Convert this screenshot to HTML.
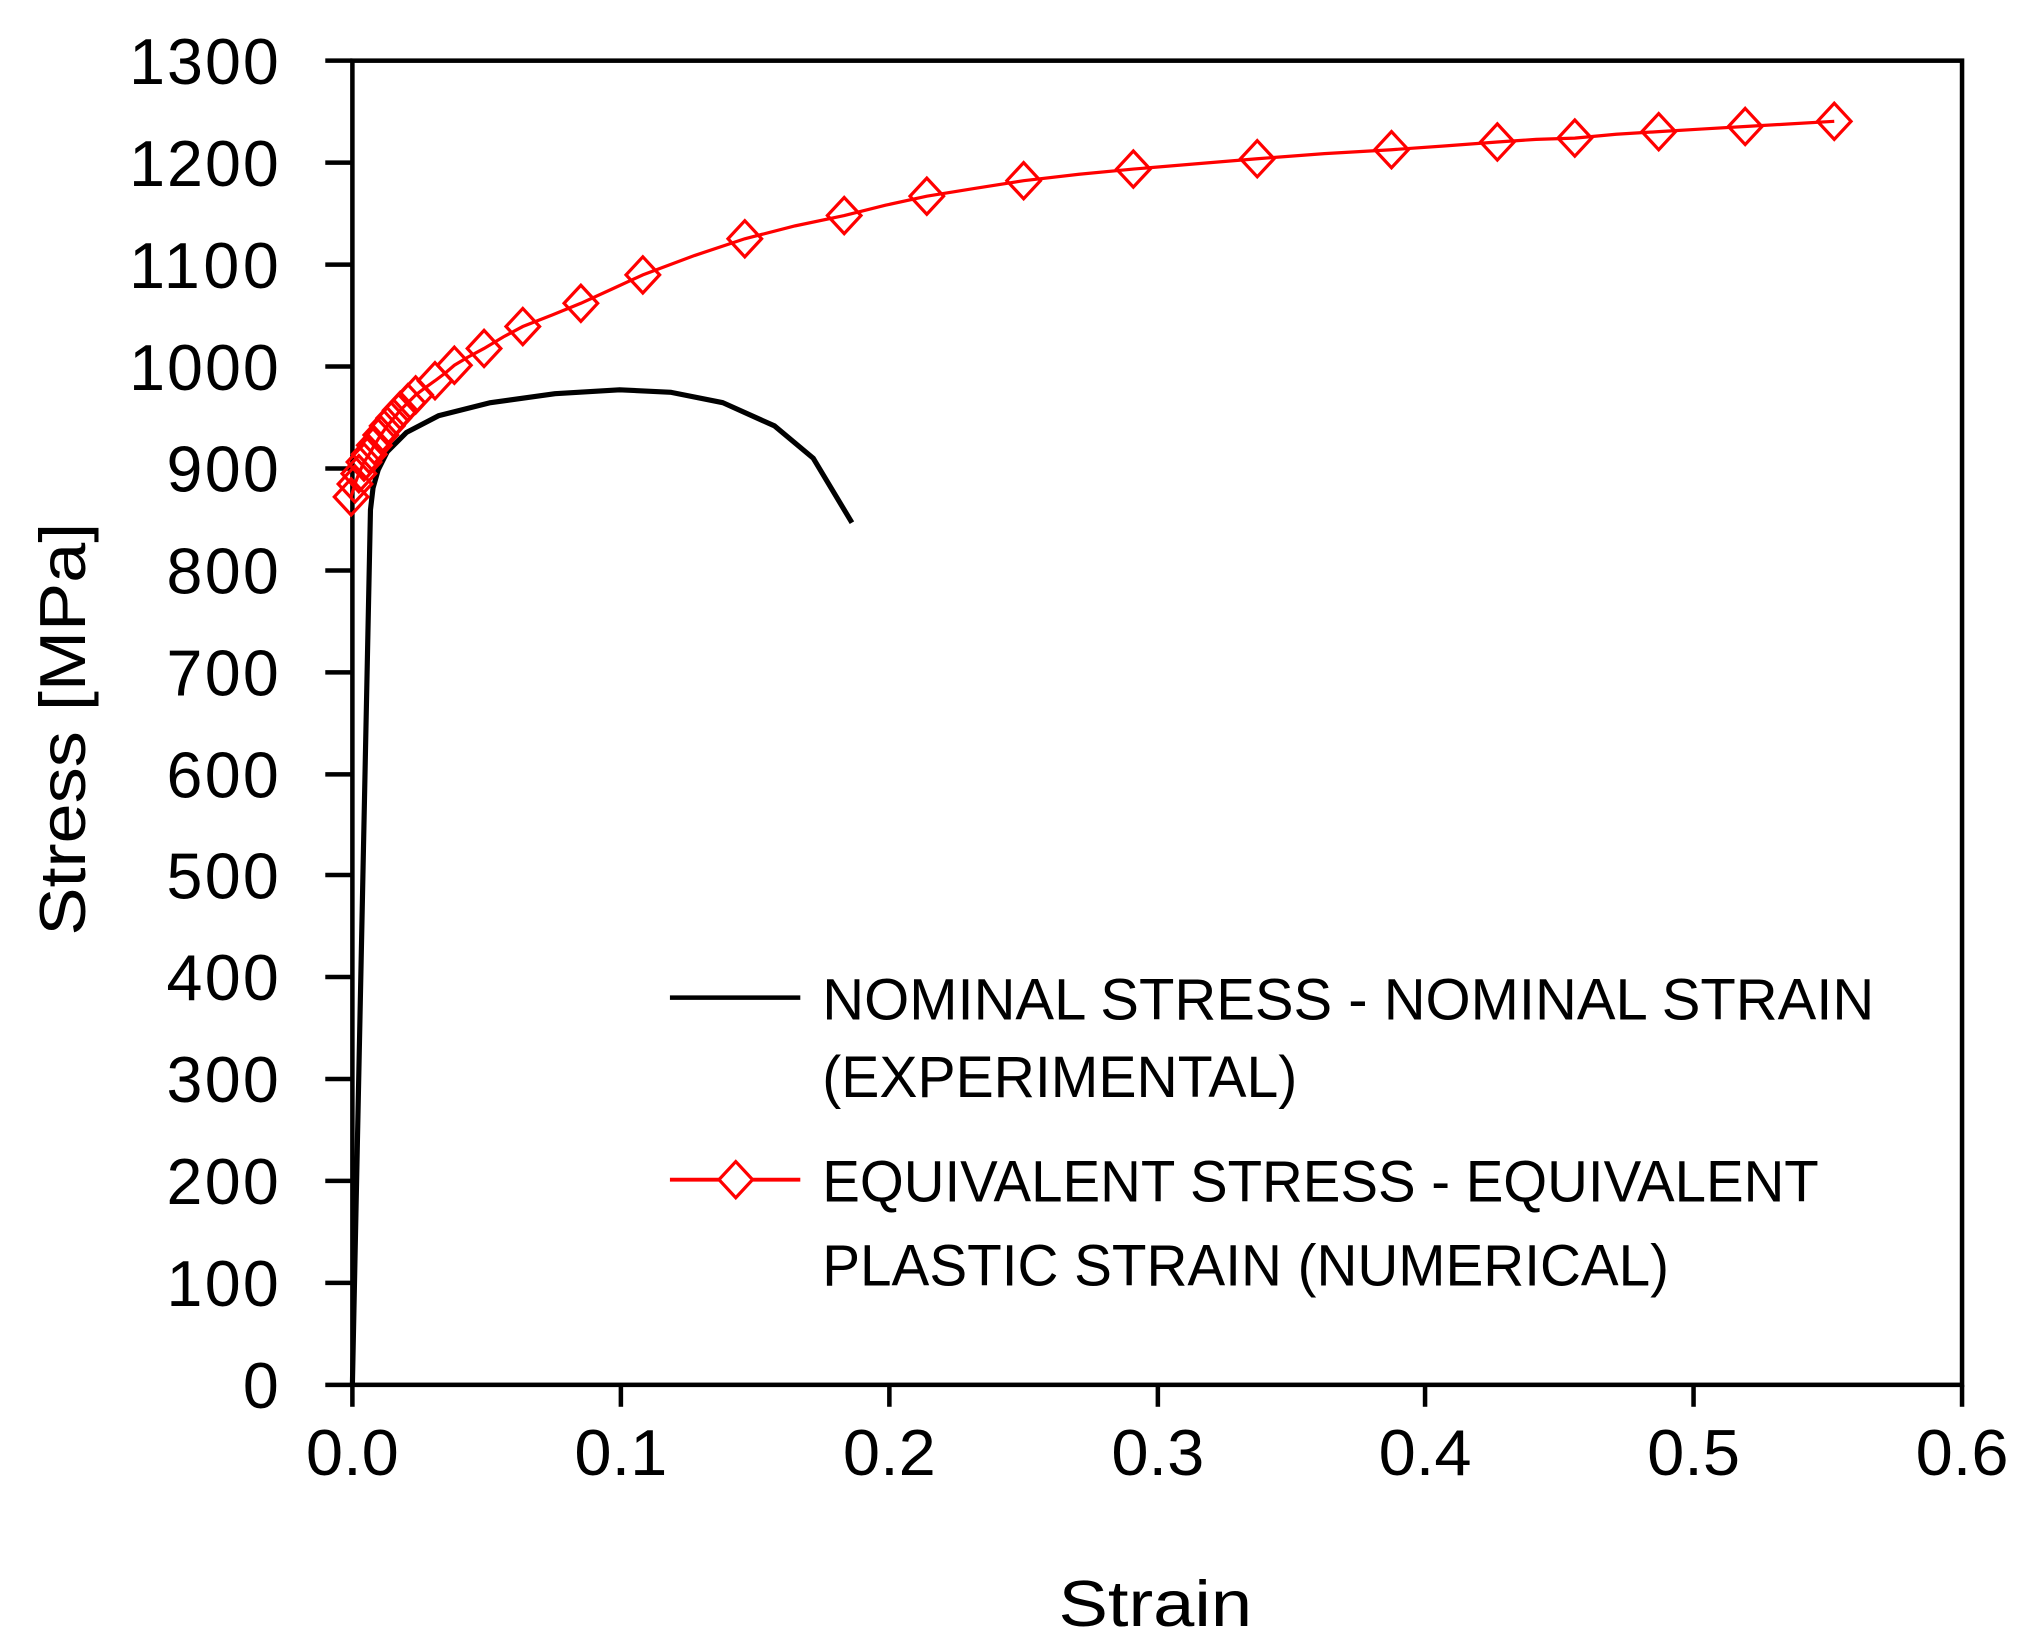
<!DOCTYPE html>
<html><head><style>html,body{margin:0;padding:0;background:#fff;}svg{display:block;}</style></head>
<body>
<svg width="2024" height="1652" viewBox="0 0 1568 1280" preserveAspectRatio="none" xmlns="http://www.w3.org/2000/svg" font-family="'Liberation Sans', 'DejaVu Sans', sans-serif">
<rect width="1568" height="1280" fill="#fff"/>
<rect x="273" y="47" width="1247" height="1026" fill="none" stroke="#000" stroke-width="3.5"/>
<g stroke="#000" stroke-width="3.5">
<line x1="252" y1="47" x2="273" y2="47"/><line x1="252" y1="126" x2="273" y2="126"/><line x1="252" y1="205" x2="273" y2="205"/>
<line x1="252" y1="284" x2="273" y2="284"/><line x1="252" y1="363" x2="273" y2="363"/><line x1="252" y1="442" x2="273" y2="442"/>
<line x1="252" y1="521" x2="273" y2="521"/><line x1="252" y1="600" x2="273" y2="600"/><line x1="252" y1="678" x2="273" y2="678"/>
<line x1="252" y1="757" x2="273" y2="757"/><line x1="252" y1="836" x2="273" y2="836"/><line x1="252" y1="915" x2="273" y2="915"/>
<line x1="252" y1="994" x2="273" y2="994"/><line x1="252" y1="1073" x2="273" y2="1073"/>
<line x1="273" y1="1073" x2="273" y2="1090"/><line x1="481" y1="1073" x2="481" y2="1090"/><line x1="689" y1="1073" x2="689" y2="1090"/>
<line x1="897" y1="1073" x2="897" y2="1090"/><line x1="1104" y1="1073" x2="1104" y2="1090"/><line x1="1312" y1="1073" x2="1312" y2="1090"/>
<line x1="1520" y1="1073" x2="1520" y2="1090"/>
</g>
<g font-size="50" text-anchor="end" fill="#000" lengthAdjust="spacingAndGlyphs">
<text x="216" y="65" textLength="116">1300</text><text x="216" y="144" textLength="116">1200</text><text x="216" y="223" textLength="116">1100</text><text x="216" y="302" textLength="116">1000</text>
<text x="216" y="381" textLength="87">900</text><text x="216" y="460" textLength="87">800</text><text x="216" y="539" textLength="87">700</text><text x="216" y="618" textLength="87">600</text>
<text x="216" y="696" textLength="87">500</text><text x="216" y="775" textLength="87">400</text><text x="216" y="854" textLength="87">300</text><text x="216" y="933" textLength="87">200</text>
<text x="216" y="1012" textLength="87">100</text><text x="216" y="1091" textLength="29">0</text>
</g>
<g font-size="50" text-anchor="middle">
<text x="273" y="1143" textLength="72" lengthAdjust="spacingAndGlyphs">0.0</text><text x="481" y="1143" textLength="72" lengthAdjust="spacingAndGlyphs">0.1</text><text x="689" y="1143" textLength="72" lengthAdjust="spacingAndGlyphs">0.2</text><text x="897" y="1143" textLength="72" lengthAdjust="spacingAndGlyphs">0.3</text>
<text x="1104" y="1143" textLength="72" lengthAdjust="spacingAndGlyphs">0.4</text><text x="1312" y="1143" textLength="72" lengthAdjust="spacingAndGlyphs">0.5</text><text x="1520" y="1143" textLength="72" lengthAdjust="spacingAndGlyphs">0.6</text>
<text x="895" y="1260" textLength="150" lengthAdjust="spacingAndGlyphs">Strain</text>
<text transform="translate(66,565) rotate(-90)" textLength="320" lengthAdjust="spacingAndGlyphs">Stress [MPa]</text>
</g>
<polyline fill="none" stroke="#000" stroke-width="4" stroke-linejoin="round" points="273,1073 287,395 289,378 293,364 300,350 315,335 340,322 380,312 430,305 480,302 520,304 560,312 600,330 630,355 660,405"/>
<g fill="none" stroke="#ff0000" stroke-width="2.5">
<polyline points="272,385 275,375 278,367 282,358 286,352 290,345 295,337 300,330 305,324 310,318 316,312 322,306 330,300 337,295 345,289 352,283 362,277 375,270 390,261 405,253 428,244 450,235 474,224 498,213 538,198 577,185 616,175 654,167 686,159 718,152 755,146 793,140 836,135 878,131 926,127 974,123 1026,119 1078,116 1120,113 1160,110 1190,108 1220,107 1252,104 1285,102 1318,100 1352,98 1387,96 1421,94"/>
<path d="M272,371 l13,14 -13,14 -13,-14z"/><path d="M275,361 l13,14 -13,14 -13,-14z"/><path d="M278,353 l13,14 -13,14 -13,-14z"/>
<path d="M282,344 l13,14 -13,14 -13,-14z"/><path d="M286,338 l13,14 -13,14 -13,-14z"/><path d="M290,331 l13,14 -13,14 -13,-14z"/>
<path d="M295,323 l13,14 -13,14 -13,-14z"/><path d="M300,316 l13,14 -13,14 -13,-14z"/><path d="M305,310 l13,14 -13,14 -13,-14z"/>
<path d="M310,304 l13,14 -13,14 -13,-14z"/><path d="M316,298 l13,14 -13,14 -13,-14z"/><path d="M322,292 l13,14 -13,14 -13,-14z"/>
<path d="M337,281 l13,14 -13,14 -13,-14z"/><path d="M352,269 l13,14 -13,14 -13,-14z"/><path d="M375,256 l13,14 -13,14 -13,-14z"/>
<path d="M405,239 l13,14 -13,14 -13,-14z"/><path d="M450,221 l13,14 -13,14 -13,-14z"/><path d="M498,199 l13,14 -13,14 -13,-14z"/>
<path d="M577,171 l13,14 -13,14 -13,-14z"/><path d="M654,153 l13,14 -13,14 -13,-14z"/><path d="M718,138 l13,14 -13,14 -13,-14z"/>
<path d="M793,126 l13,14 -13,14 -13,-14z"/><path d="M878,117 l13,14 -13,14 -13,-14z"/><path d="M974,109 l13,14 -13,14 -13,-14z"/>
<path d="M1078,102 l13,14 -13,14 -13,-14z"/><path d="M1160,96 l13,14 -13,14 -13,-14z"/><path d="M1220,93 l13,14 -13,14 -13,-14z"/>
<path d="M1285,88 l13,14 -13,14 -13,-14z"/><path d="M1352,84 l13,14 -13,14 -13,-14z"/><path d="M1421,80 l13,14 -13,14 -13,-14z"/>
</g>
<line x1="519" y1="773" x2="620" y2="773" stroke="#000" stroke-width="3.5"/>
<line x1="519" y1="914" x2="620" y2="914" stroke="#ff0000" stroke-width="3"/>
<path d="M570,900 l13,14 -13,14 -13,-14z" fill="#fff" stroke="#ff0000" stroke-width="2.5"/>
<g font-size="45" fill="#000">
<text x="637" y="790" textLength="815" lengthAdjust="spacingAndGlyphs">NOMINAL STRESS - NOMINAL STRAIN</text>
<text x="637" y="850" textLength="368" lengthAdjust="spacingAndGlyphs">(EXPERIMENTAL)</text>
<text x="637" y="931" textLength="772" lengthAdjust="spacingAndGlyphs">EQUIVALENT STRESS - EQUIVALENT</text>
<text x="637" y="996" textLength="656" lengthAdjust="spacingAndGlyphs">PLASTIC STRAIN (NUMERICAL)</text>
</g>
</svg>
</body></html>
